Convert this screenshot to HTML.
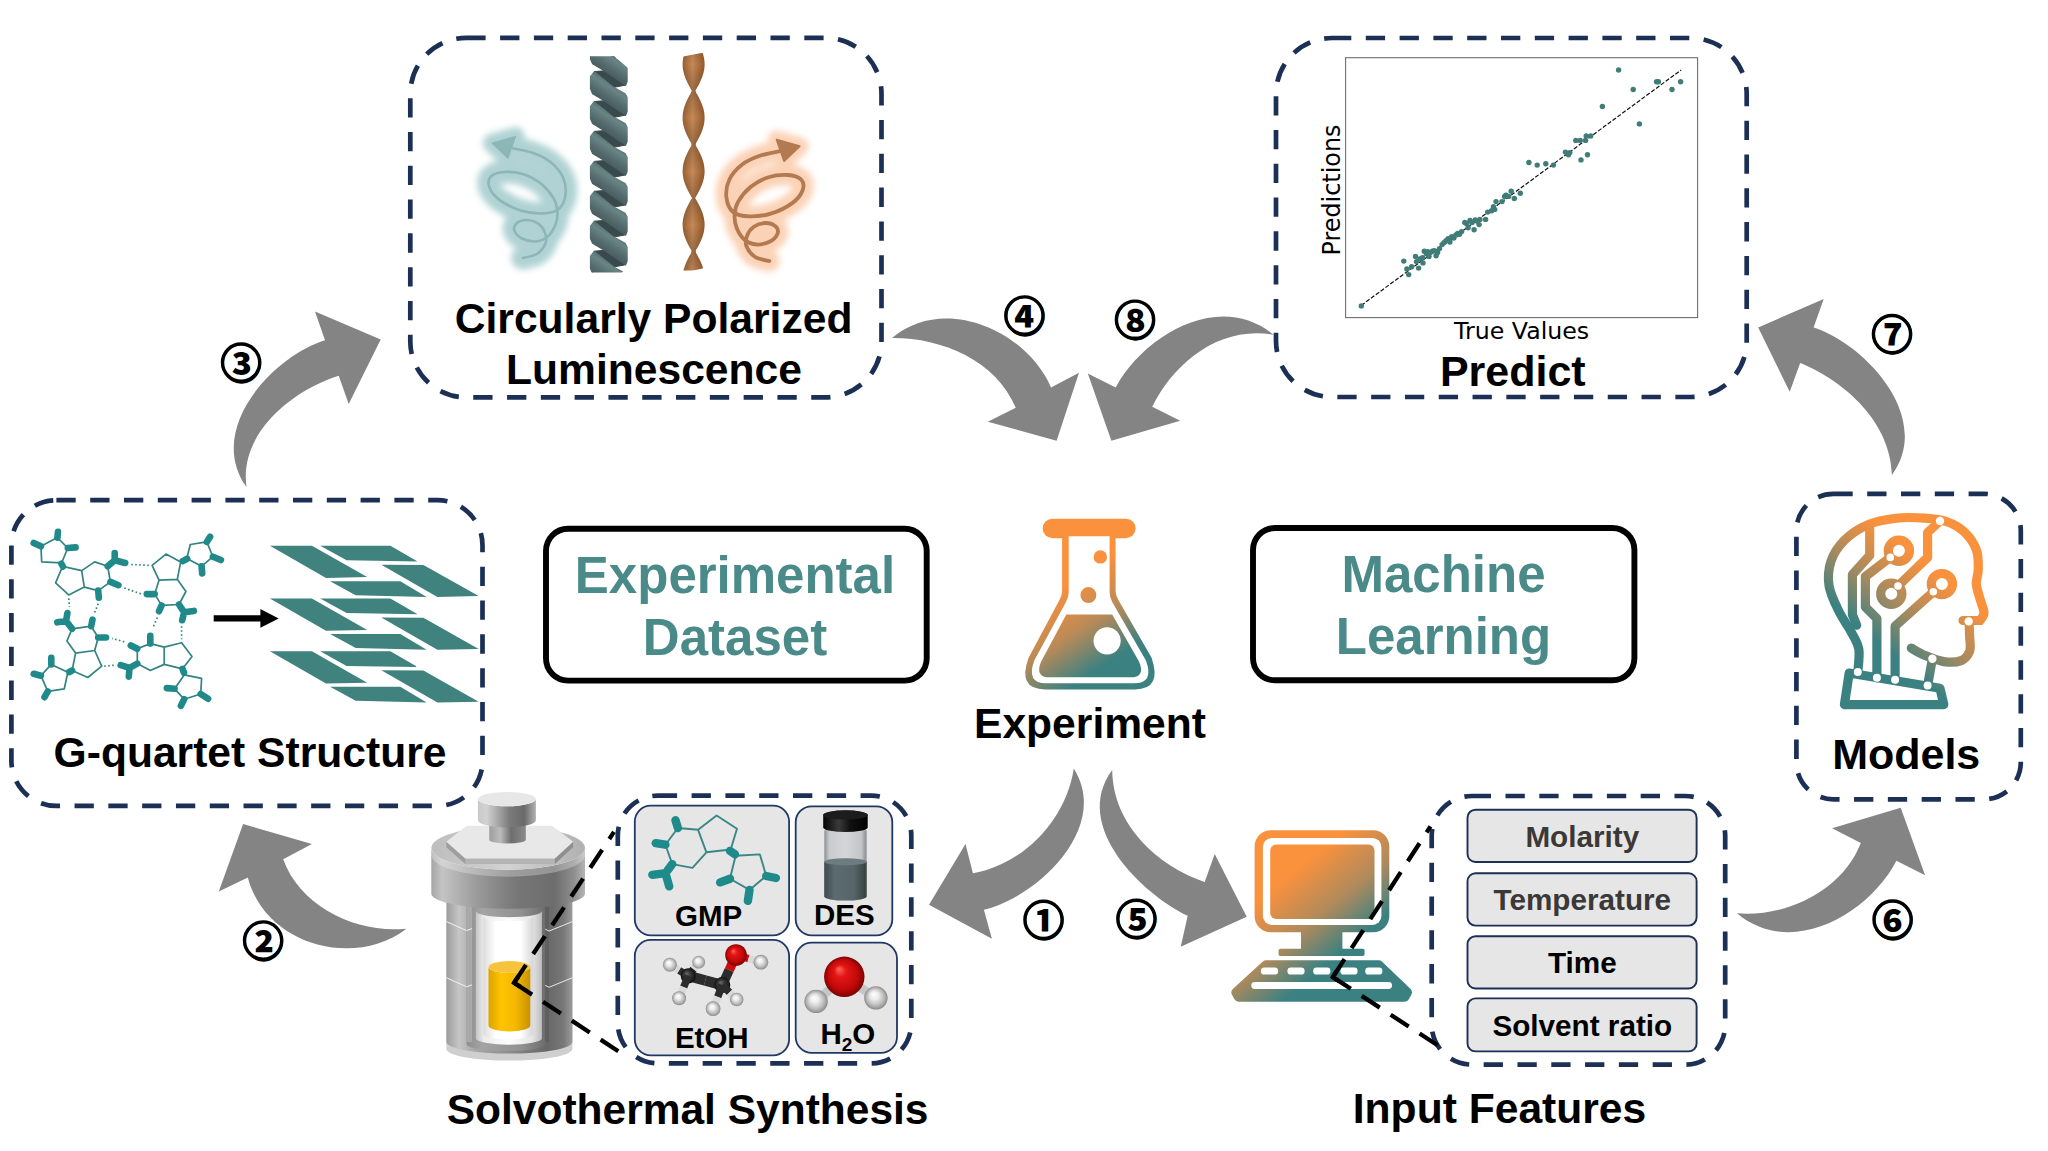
<!DOCTYPE html>
<html lang="en"><head><meta charset="utf-8"><title>Workflow</title>
<style>html,body{margin:0;padding:0;background:#fff}svg{display:block}</style></head>
<body>
<svg width="2048" height="1151" viewBox="0 0 2048 1151">
<defs>
<linearGradient id="acB" x1="0" y1="0" x2="1" y2="0"><stop offset="0" stop-color="#9c9c9c"/><stop offset="0.1" stop-color="#c6c6c6"/><stop offset="0.2" stop-color="#acacac"/><stop offset="0.5" stop-color="#8a8a8a"/><stop offset="0.8" stop-color="#676767"/><stop offset="0.93" stop-color="#787878"/><stop offset="1" stop-color="#9c9c9c"/></linearGradient>
<linearGradient id="acL" x1="0" y1="0" x2="1" y2="0"><stop offset="0" stop-color="#a5a5a5"/><stop offset="0.07" stop-color="#c4c4c4"/><stop offset="0.3" stop-color="#9a9a9a"/><stop offset="0.55" stop-color="#777"/><stop offset="0.8" stop-color="#6d6d6d"/><stop offset="0.93" stop-color="#8f8f8f"/><stop offset="1" stop-color="#b5b5b5"/></linearGradient>
<linearGradient id="acT" x1="0" y1="0" x2="1" y2="0"><stop offset="0" stop-color="#bdbdbd"/><stop offset="0.5" stop-color="#d2d2d2"/><stop offset="1" stop-color="#b0b0b0"/></linearGradient>
<linearGradient id="acK" x1="0" y1="0" x2="1" y2="0"><stop offset="0" stop-color="#c9c9c9"/><stop offset="0.15" stop-color="#d2d2d2"/><stop offset="0.55" stop-color="#7a7a7a"/><stop offset="0.8" stop-color="#6a6a6a"/><stop offset="1" stop-color="#b2b2b2"/></linearGradient>
<linearGradient id="acS" x1="0" y1="0" x2="1" y2="0"><stop offset="0" stop-color="#9d9d9d"/><stop offset="0.3" stop-color="#bcbcbc"/><stop offset="0.6" stop-color="#6e6e6e"/><stop offset="1" stop-color="#8a8a8a"/></linearGradient>
<linearGradient id="acW" x1="0" y1="0" x2="1" y2="0"><stop offset="0" stop-color="#c4c4c4"/><stop offset="0.12" stop-color="#ececec"/><stop offset="0.5" stop-color="#fdfdfd"/><stop offset="0.85" stop-color="#e6e6e6"/><stop offset="1" stop-color="#bdbdbd"/></linearGradient>
<linearGradient id="acI" x1="0" y1="0" x2="1" y2="0"><stop offset="0" stop-color="#dcdcdc"/><stop offset="0.25" stop-color="#fff"/><stop offset="0.75" stop-color="#fff"/><stop offset="1" stop-color="#d5d5d5"/></linearGradient>
<linearGradient id="acC" x1="0" y1="0" x2="1" y2="0"><stop offset="0" stop-color="#8e8e8e"/><stop offset="0.2" stop-color="#a4a4a4"/><stop offset="0.7" stop-color="#909090"/><stop offset="1" stop-color="#6c6c6c"/></linearGradient>
<linearGradient id="acY" x1="0" y1="0" x2="1" y2="0"><stop offset="0" stop-color="#dba300"/><stop offset="0.3" stop-color="#ffc400"/><stop offset="0.65" stop-color="#f5b800"/><stop offset="1" stop-color="#c79100"/></linearGradient>
<filter id="blur1" x="-30%" y="-30%" width="160%" height="160%"><feGaussianBlur stdDeviation="3"/></filter>
<path id="spiR" d="M769.3 261C766.9 260.4 759.1 259.5 755.2 257C751.4 254.5 747.7 249.5 746.4 246C745 242.4 745.9 238.8 747.1 235.6C748.3 232.4 750.7 228.8 753.8 226.7C756.8 224.6 761.9 223 765.6 223C769.3 223 774 224.9 775.9 226.7C777.9 228.6 778.4 231.7 777.4 234.1C776.4 236.6 773.5 239.8 770 241.5C766.6 243.2 760.9 244.7 756.7 244.5C752.5 244.2 748.2 242.8 744.9 240C741.6 237.3 738.5 232.4 736.8 228.2C735 224 734.3 219.4 734.6 214.9C734.8 210.5 735.5 206.3 738.2 201.6C741 196.9 745.8 190.9 750.8 186.8C755.9 182.8 762.4 179.2 768.5 177.2C774.7 175.3 782.3 174.7 787.8 175C793.2 175.4 798.6 176.9 801.1 179.5C803.5 182 804 186.6 802.5 190.5C801.1 194.5 797.4 199.3 792.2 203.1C787 206.9 778.6 211.2 771.5 213.4C764.4 215.7 755.7 216.6 749.3 216.4C742.9 216.2 736.9 215.2 733.1 212C729.3 208.8 727 202.6 726.4 197.2C725.8 191.8 726.8 184.9 729.4 179.5C732 174 736.9 168.6 741.9 164.7C747 160.7 753.5 158 759.7 155.8C765.8 153.6 775.7 152.1 778.9 151.4"/><path id="spiH" d="M776.7 139.6L799.6 146.2L784.1 161Z"/>
<clipPath id="helclip"><rect x="585" y="56.3" width="50" height="216.3"/></clipPath>
<linearGradient id="helg" gradientUnits="userSpaceOnUse" x1="600" y1="60" x2="590.5" y2="75" spreadMethod="repeat"><stop offset="0" stop-color="#465a5c"/><stop offset="0.3" stop-color="#4f6567"/><stop offset="0.55" stop-color="#6b8688"/><stop offset="0.8" stop-color="#52686a"/><stop offset="1" stop-color="#465a5c"/></linearGradient>
<linearGradient id="helg0" gradientUnits="userSpaceOnUse" x1="620.3" y1="-21.3" x2="597.3" y2="14.1"><stop offset="0" stop-color="#44585a"/><stop offset="0.32" stop-color="#4b6062"/><stop offset="0.5" stop-color="#6a8587"/><stop offset="0.72" stop-color="#546a6c"/><stop offset="1" stop-color="#3f5254"/></linearGradient>
<linearGradient id="helg1" gradientUnits="userSpaceOnUse" x1="620.3" y1="8.6" x2="597.3" y2="44.1"><stop offset="0" stop-color="#44585a"/><stop offset="0.32" stop-color="#4b6062"/><stop offset="0.5" stop-color="#6a8587"/><stop offset="0.72" stop-color="#546a6c"/><stop offset="1" stop-color="#3f5254"/></linearGradient>
<linearGradient id="helg2" gradientUnits="userSpaceOnUse" x1="620.3" y1="38.5" x2="597.3" y2="74"><stop offset="0" stop-color="#44585a"/><stop offset="0.32" stop-color="#4b6062"/><stop offset="0.5" stop-color="#6a8587"/><stop offset="0.72" stop-color="#546a6c"/><stop offset="1" stop-color="#3f5254"/></linearGradient>
<linearGradient id="helg3" gradientUnits="userSpaceOnUse" x1="620.3" y1="68.5" x2="597.3" y2="103.9"><stop offset="0" stop-color="#44585a"/><stop offset="0.32" stop-color="#4b6062"/><stop offset="0.5" stop-color="#6a8587"/><stop offset="0.72" stop-color="#546a6c"/><stop offset="1" stop-color="#3f5254"/></linearGradient>
<linearGradient id="helg4" gradientUnits="userSpaceOnUse" x1="620.3" y1="98.4" x2="597.3" y2="133.8"><stop offset="0" stop-color="#44585a"/><stop offset="0.32" stop-color="#4b6062"/><stop offset="0.5" stop-color="#6a8587"/><stop offset="0.72" stop-color="#546a6c"/><stop offset="1" stop-color="#3f5254"/></linearGradient>
<linearGradient id="helg5" gradientUnits="userSpaceOnUse" x1="620.3" y1="128.3" x2="597.3" y2="163.8"><stop offset="0" stop-color="#44585a"/><stop offset="0.32" stop-color="#4b6062"/><stop offset="0.5" stop-color="#6a8587"/><stop offset="0.72" stop-color="#546a6c"/><stop offset="1" stop-color="#3f5254"/></linearGradient>
<linearGradient id="helg6" gradientUnits="userSpaceOnUse" x1="620.3" y1="158.2" x2="597.3" y2="193.7"><stop offset="0" stop-color="#44585a"/><stop offset="0.32" stop-color="#4b6062"/><stop offset="0.5" stop-color="#6a8587"/><stop offset="0.72" stop-color="#546a6c"/><stop offset="1" stop-color="#3f5254"/></linearGradient>
<linearGradient id="helg7" gradientUnits="userSpaceOnUse" x1="620.3" y1="188.2" x2="597.3" y2="223.6"><stop offset="0" stop-color="#44585a"/><stop offset="0.32" stop-color="#4b6062"/><stop offset="0.5" stop-color="#6a8587"/><stop offset="0.72" stop-color="#546a6c"/><stop offset="1" stop-color="#3f5254"/></linearGradient>
<linearGradient id="helg8" gradientUnits="userSpaceOnUse" x1="620.3" y1="218.1" x2="597.3" y2="253.6"><stop offset="0" stop-color="#44585a"/><stop offset="0.32" stop-color="#4b6062"/><stop offset="0.5" stop-color="#6a8587"/><stop offset="0.72" stop-color="#546a6c"/><stop offset="1" stop-color="#3f5254"/></linearGradient>
<linearGradient id="helg9" gradientUnits="userSpaceOnUse" x1="620.3" y1="248" x2="597.3" y2="283.5"><stop offset="0" stop-color="#44585a"/><stop offset="0.32" stop-color="#4b6062"/><stop offset="0.5" stop-color="#6a8587"/><stop offset="0.72" stop-color="#546a6c"/><stop offset="1" stop-color="#3f5254"/></linearGradient>
<linearGradient id="ribg" x1="0" y1="0" x2="1" y2="0"><stop offset="0" stop-color="#9a6030"/><stop offset="0.45" stop-color="#c68a58"/><stop offset="1" stop-color="#97592a"/></linearGradient>
<linearGradient id="ribv" gradientUnits="userSpaceOnUse" x1="0" y1="91" x2="0" y2="117.8" spreadMethod="reflect"><stop offset="0" stop-color="#000" stop-opacity="0.22"/><stop offset="1" stop-color="#000" stop-opacity="0"/></linearGradient>
<linearGradient id="flg" gradientUnits="userSpaceOnUse" x1="1040" y1="535" x2="1140" y2="690"><stop offset="0" stop-color="#fa913d"/><stop offset="0.3" stop-color="#fa913d"/><stop offset="0.55" stop-color="#b98a58"/><stop offset="0.78" stop-color="#3c8181"/><stop offset="1" stop-color="#3c8181"/></linearGradient>
<linearGradient id="hdg" gradientUnits="userSpaceOnUse" x1="1945" y1="520" x2="1835" y2="650"><stop offset="0" stop-color="#fa913d"/><stop offset="0.28" stop-color="#fa913d"/><stop offset="0.55" stop-color="#a88a5e"/><stop offset="0.8" stop-color="#3c8181"/><stop offset="1" stop-color="#3c8181"/></linearGradient>
<linearGradient id="vcap" x1="0" y1="0" x2="1" y2="0"><stop offset="0" stop-color="#050505"/><stop offset="0.35" stop-color="#3a3a3a"/><stop offset="0.6" stop-color="#111"/><stop offset="1" stop-color="#000"/></linearGradient>
<linearGradient id="vgl" x1="0" y1="0" x2="1" y2="0"><stop offset="0" stop-color="#8e9194"/><stop offset="0.12" stop-color="#c9cbce"/><stop offset="0.5" stop-color="#d4d6d8"/><stop offset="0.88" stop-color="#c2c4c7"/><stop offset="1" stop-color="#85888b"/></linearGradient>
<linearGradient id="vlq" x1="0" y1="0" x2="1" y2="0"><stop offset="0" stop-color="#3e4b4e"/><stop offset="0.25" stop-color="#5b6b6f"/><stop offset="0.7" stop-color="#55656a"/><stop offset="1" stop-color="#36423f"/></linearGradient>
<radialGradient id="gH" cx="0.5" cy="0.5" r="0.5" fx="0.4" fy="0.34"><stop offset="0" stop-color="#ffffff"/><stop offset="0.35" stop-color="#ececec"/><stop offset="0.75" stop-color="#b9b9b9"/><stop offset="1" stop-color="#8a8a8a"/></radialGradient>
<radialGradient id="gC" cx="0.5" cy="0.5" r="0.5" fx="0.38" fy="0.32"><stop offset="0" stop-color="#6a6a6a"/><stop offset="0.4" stop-color="#3a3a3a"/><stop offset="1" stop-color="#111"/></radialGradient>
<radialGradient id="gO" cx="0.5" cy="0.5" r="0.5" fx="0.36" fy="0.30"><stop offset="0" stop-color="#ff6a5a"/><stop offset="0.3" stop-color="#e41616"/><stop offset="0.75" stop-color="#c00808"/><stop offset="1" stop-color="#7a0303"/></radialGradient>
<linearGradient id="cpg" gradientUnits="userSpaceOnUse" x1="1262" y1="838" x2="1395" y2="1000"><stop offset="0" stop-color="#fa913d"/><stop offset="0.22" stop-color="#fa913d"/><stop offset="0.46" stop-color="#b08a5c"/><stop offset="0.66" stop-color="#3c8181"/><stop offset="1" stop-color="#3c8181"/></linearGradient>
</defs>
<rect width="2048" height="1151" fill="#fff"/>
<path d="M892 338C943.8 293.8 1026.7 330.6 1051 387.4L1079 372.8L1056.6 440.7L987.8 421.8L1015.8 407.8C995.8 359.9 940.8 337.6 892 338Z" fill="#848484"/>
<path d="M1273.6 334.8C1219.3 289.6 1143.3 336 1115.7 387.4L1087.8 373.5L1111.4 440.7L1180.2 420.7L1152.2 406.8C1174.2 362.7 1219.3 325.4 1273.6 334.8Z" fill="#848484"/>
<path d="M1073.8 768.4C1111.4 828.1 1035.6 898.1 983.9 909.8L991.9 938.8L929 904.8L965.5 843.9L972.9 873.3C1024.2 863.9 1066 819.7 1073.8 768.4Z" fill="#848484"/>
<path d="M1112.2 770C1070.5 826.4 1143.5 894.8 1187.7 915.8L1180.7 946.8L1246.7 916.8L1214.7 853.9L1204.7 881.9C1157 865.6 1112.8 824.4 1112.2 770Z" fill="#848484"/>
<path d="M406.4 928.7C354.2 969 265.4 945 247.8 877.5L218.8 891.4L243.1 824L311.9 844L283.2 859.3C300.4 907.4 357.6 934 406.4 928.7Z" fill="#848484"/>
<path d="M246.5 487.1C205.2 429.3 272.9 356.3 325 340.2L315 311.5L380.7 339.6L348.7 404.1L338.7 375.8C292.3 390.3 238.9 433.2 246.5 487.1Z" fill="#848484"/>
<path d="M1736.9 913.3C1791.2 958.9 1869.1 913.9 1896.4 860.8L1925.1 875.2L1900.7 807.8L1832.1 828.3L1860.8 842.9C1842.5 890.6 1786.1 917.4 1736.9 913.3Z" fill="#848484"/>
<path d="M1891.9 475C1933.8 417.1 1865.2 344.1 1813.6 327.4L1823.7 299.1L1758.2 327.4L1789.7 391.8L1800.2 363.1C1845.6 381.5 1890.8 423.1 1891.9 475Z" fill="#848484"/>
<path d="M446.4 921.1 V1049 A63 11.6 0 0 0 572.4 1049 V921.1 A63 11.6 0 0 1 446.4 921.1 Z" fill="#cfcfcf"/>
<path d="M446.4 890.8 V1042 A63 11.6 0 0 0 572.4 1042 V890.8 A63 11.6 0 0 1 446.4 890.8 Z" fill="url(#acB)"/>
<path d="M466.6 898.4 V1044.5 A39.7 7.1 0 0 0 545.9 1044.5 V898.4 Z" fill="url(#acC)"/>
<rect x="466.6" y="898.4" width="5.5" height="143.6" fill="#a9a9a9"/>
<rect x="545.2" y="898.4" width="3.8" height="143.6" fill="#5f5f5f"/>
<path d="M475.9 911 V1038.4 A33 6.3 0 0 0 541.9 1038.4 V911 A33 6.3 0 0 1 475.9 911 Z" fill="url(#acW)"/>
<path d="M483 916 V1033.9 A25.2 5.5 0 0 0 533.4 1033.9 V916 A25.2 5.5 0 0 1 483 916 Z" fill="url(#acI)"/>
<path d="M488.5 966.9 V1025.6 A20.9 6 0 0 0 530.3 1025.6 V966.9 A20.9 6 0 0 1 488.5 966.9 Z" fill="url(#acY)"/>
<ellipse cx="509.4" cy="966.9" rx="20.9" ry="6" fill="#f6c43c"/>
<path d="M446.4 921.6L466.6 930.6L472.1 928.6" fill="none" stroke="#f2f2f2" stroke-width="1"/>
<path d="M572.4 921.6L549 931.1L545.2 929.1" fill="none" stroke="#e8e8e8" stroke-width="1"/>
<path d="M446.4 977.7L466.6 986.8L472.1 984.8" fill="none" stroke="#f2f2f2" stroke-width="1"/>
<path d="M572.4 977.7L549 987.3L545.2 985.3" fill="none" stroke="#e8e8e8" stroke-width="1"/>
<path d="M431.3 848 V893.6 A76.8 15.2 0 0 0 585 893.6 V848 A76.8 21.7 0 0 1 431.3 848 Z" fill="url(#acL)"/>
<ellipse cx="508.2" cy="848" rx="76.8" ry="21.7" fill="url(#acT)"/>
<path d="M431.3 848 A76.8 21.7 0 0 0 585 848 V855 A76.8 21.7 0 0 1 431.3 855 Z" fill="#fff" opacity="0.28"/>
<path d="M446.4 841.7L446.4 847.3L465.3 864.1L554.8 864.1L573.1 847.3L573.1 841.7L554.8 858.6Z" fill="#b4b4b4"/>
<path d="M446.4 841.7L446.4 847.3L465.3 864.1L465.3 858.6Z" fill="#9e9e9e"/>
<path d="M573.1 841.7L573.1 847.3L554.8 864.1L554.8 858.6Z" fill="#8f8f8f"/>
<path d="M446.4 841.7L466.6 825.8L552.2 825.8L573.1 841.7L554.8 858.6L465.3 858.6Z" fill="#e8e8e8"/>
<path d="M489.3 822.8 V839.9 A18.3 4 0 0 0 525.8 839.9 V822.8 A18.3 4 0 0 1 489.3 822.8 Z" fill="url(#acS)"/>
<path d="M477.9 799.1 V820.3 A29 7.1 0 0 0 535.9 820.3 V799.1 A29 7.1 0 0 1 477.9 799.1 Z" fill="url(#acK)"/>
<ellipse cx="506.9" cy="799.1" rx="29" ry="7.1" fill="#e7e7e7"/>
<rect x="410.3" y="37.8" width="471.2" height="359.6" rx="56" fill="none" stroke="#1c2f55" stroke-width="4.7" stroke-dasharray="19.3 14.5" stroke-dashoffset="0"/>
<rect x="1276" y="38" width="470.7" height="359" rx="56" fill="none" stroke="#1c2f55" stroke-width="4.7" stroke-dasharray="19.3 14.5" stroke-dashoffset="0"/>
<rect x="11.4" y="500.2" width="471.1" height="305.7" rx="45" fill="none" stroke="#1c2f55" stroke-width="4.7" stroke-dasharray="19.3 14.5" stroke-dashoffset="0"/>
<rect x="1796.4" y="493.8" width="224.4" height="305.5" rx="37" fill="none" stroke="#1c2f55" stroke-width="4.7" stroke-dasharray="19.3 14.5" stroke-dashoffset="0"/>
<rect x="617.8" y="795.6" width="293.5" height="267.7" rx="40" fill="none" stroke="#1c2f55" stroke-width="4.7" stroke-dasharray="19.3 14.5" stroke-dashoffset="0"/>
<rect x="1431.7" y="796" width="293.5" height="268.6" rx="40" fill="none" stroke="#1c2f55" stroke-width="4.7" stroke-dasharray="19.3 14.5" stroke-dashoffset="0"/>
<g>
<g filter="url(#blur1)" opacity="0.95"><use href="#spiR" fill="none" stroke="#fbd0b3" stroke-width="21" stroke-linecap="round" stroke-linejoin="round"/><use href="#spiH" fill="#fbd0b3" stroke="#fbd0b3" stroke-width="18" stroke-linejoin="round"/></g>
<use href="#spiR" fill="none" stroke="#b37a52" stroke-width="3.8" stroke-linecap="round"/><use href="#spiH" fill="#b37a52" stroke="#b37a52" stroke-width="2" stroke-linejoin="round"/>
</g>
<g transform="translate(1292 -3) scale(-1 1)">
<g filter="url(#blur1)" opacity="0.97"><use href="#spiR" fill="none" stroke="#aed1d3" stroke-width="23" stroke-linecap="round" stroke-linejoin="round"/><use href="#spiH" fill="#aed1d3" stroke="#aed1d3" stroke-width="19" stroke-linejoin="round"/></g>
<use href="#spiR" fill="none" stroke="#8db6b7" stroke-width="2.6" stroke-linecap="round"/><use href="#spiH" fill="#8db6b7" stroke="#8db6b7" stroke-width="1.5" stroke-linejoin="round"/>
</g>
<g clip-path="url(#helclip)" stroke-linejoin="round">
<path d="M604.8 -19L625.8 -4.6L613.6 -2.3L594 -18.2Z" fill="#384a4c" stroke="#384a4c" stroke-width="1"/>
<path d="M604.8 10.9L625.8 25.3L613.6 27.6L594 11.7Z" fill="#384a4c" stroke="#384a4c" stroke-width="1"/>
<path d="M604.8 40.8L625.8 55.2L613.6 57.5L594 41.7Z" fill="#384a4c" stroke="#384a4c" stroke-width="1"/>
<path d="M604.8 70.8L625.8 85.1L613.6 87.4L594 71.6Z" fill="#384a4c" stroke="#384a4c" stroke-width="1"/>
<path d="M604.8 100.7L625.8 115.1L613.6 117.4L594 101.5Z" fill="#384a4c" stroke="#384a4c" stroke-width="1"/>
<path d="M604.8 130.6L625.8 145L613.6 147.3L594 131.4Z" fill="#384a4c" stroke="#384a4c" stroke-width="1"/>
<path d="M604.8 160.5L625.8 174.9L613.6 177.2L594 161.4Z" fill="#384a4c" stroke="#384a4c" stroke-width="1"/>
<path d="M604.8 190.5L625.8 204.9L613.6 207.1L594 191.3Z" fill="#384a4c" stroke="#384a4c" stroke-width="1"/>
<path d="M604.8 220.4L625.8 234.8L613.6 237.1L594 221.2Z" fill="#384a4c" stroke="#384a4c" stroke-width="1"/>
<path d="M604.8 250.3L625.8 264.7L613.6 267L594 251.2Z" fill="#384a4c" stroke="#384a4c" stroke-width="1"/>
<path d="M594.2 -18L613.6 -2.3L625.1 3.9L627.1 7.6L627.1 21.7L625.6 25.4L604.8 11.2L592.6 3.9L590.5 -1L590.5 -13.3Z" fill="url(#helg0)" stroke="url(#helg0)" stroke-width="1.2"/>
<path d="M594.2 11.9L613.6 27.6L625.1 33.8L627.1 37.5L627.1 51.7L625.6 55.3L604.8 41.1L592.6 33.8L590.5 28.9L590.5 16.6Z" fill="url(#helg1)" stroke="url(#helg1)" stroke-width="1.2"/>
<path d="M594.2 41.9L613.6 57.5L625.1 63.8L627.1 67.4L627.1 81.6L625.6 85.3L604.8 71.1L592.6 63.8L590.5 58.9L590.5 46.6Z" fill="url(#helg2)" stroke="url(#helg2)" stroke-width="1.2"/>
<path d="M594.2 71.8L613.6 87.4L625.1 93.7L627.1 97.3L627.1 111.5L625.6 115.2L604.8 101L592.6 93.7L590.5 88.8L590.5 76.5Z" fill="url(#helg3)" stroke="url(#helg3)" stroke-width="1.2"/>
<path d="M594.2 101.7L613.6 117.4L625.1 123.6L627.1 127.3L627.1 141.5L625.6 145.1L604.8 130.9L592.6 123.6L590.5 118.7L590.5 106.4Z" fill="url(#helg4)" stroke="url(#helg4)" stroke-width="1.2"/>
<path d="M594.2 131.7L613.6 147.3L625.1 153.6L627.1 157.2L627.1 171.4L625.6 175L604.8 160.8L592.6 153.6L590.5 148.6L590.5 136.3Z" fill="url(#helg5)" stroke="url(#helg5)" stroke-width="1.2"/>
<path d="M594.2 161.6L613.6 177.2L625.1 183.5L627.1 187.1L627.1 201.3L625.6 205L604.8 190.8L592.6 183.5L590.5 178.6L590.5 166.3Z" fill="url(#helg6)" stroke="url(#helg6)" stroke-width="1.2"/>
<path d="M594.2 191.5L613.6 207.1L625.1 213.4L627.1 217.1L627.1 231.2L625.6 234.9L604.8 220.7L592.6 213.4L590.5 208.5L590.5 196.2Z" fill="url(#helg7)" stroke="url(#helg7)" stroke-width="1.2"/>
<path d="M594.2 221.4L613.6 237.1L625.1 243.3L627.1 247L627.1 261.2L625.6 264.8L604.8 250.6L592.6 243.3L590.5 238.4L590.5 226.1Z" fill="url(#helg8)" stroke="url(#helg8)" stroke-width="1.2"/>
<path d="M594.2 251.4L613.6 267L625.1 273.3L627.1 276.9L627.1 291.1L625.6 294.7L604.8 280.6L592.6 273.3L590.5 268.4L590.5 256.1Z" fill="url(#helg9)" stroke="url(#helg9)" stroke-width="1.2"/>
</g>
<path d="M613.5 55.5H629V69Z" fill="#fff"/>
<path d="M621.2 273.5H629V265.5Z" fill="#fff"/>
<path d="M684.5 53L683.8 55.5L683.2 58L682.8 60.5L682.6 63L682.6 65.5L682.8 68L683.2 70.5L683.8 73L684.5 75.5L685.4 78L686.5 80.5L687.6 83L688.9 85.5L690.3 88L691.8 90.5L690.9 93L689.4 95.5L688.1 98L686.9 100.5L685.8 103L684.9 105.5L684 108L683.4 110.5L682.9 113L682.7 115.5L682.6 118L682.7 120.5L683 123L683.5 125.5L684.2 128L685 130.5L686 133L687.1 135.5L688.4 138L689.7 140.5L691.2 143L691.5 145.5L690 148L688.6 150.5L687.4 153L686.2 155.5L685.2 158L684.3 160.5L683.6 163L683.1 165.5L682.8 168L682.6 170.5L682.6 173L682.9 175.5L683.3 178L683.9 180.5L684.7 183L685.6 185.5L686.7 188L687.9 190.5L689.2 193L690.6 195.5L692.1 198L690.6 200.5L689.2 203L687.9 205.5L686.7 208L685.6 210.5L684.7 213L683.9 215.5L683.3 218L682.9 220.5L682.6 223L682.6 225.5L682.8 228L683.1 230.5L683.6 233L684.3 235.5L685.2 238L686.2 240.5L687.4 243L688.6 245.5L690 248L691.5 250.5L691.2 253L689.7 255.5L688.4 258L687.1 260.5L686 263L685 265.5L684.2 268L683.5 270.5L703.7 270.5L703 268L702.2 265.5L701.2 263L700.1 260.5L698.8 258L697.5 255.5L696 253L695.7 250.5L697.2 248L698.6 245.5L699.8 243L701 240.5L702 238L702.9 235.5L703.6 233L704.1 230.5L704.4 228L704.6 225.5L704.6 223L704.3 220.5L703.9 218L703.3 215.5L702.5 213L701.6 210.5L700.5 208L699.3 205.5L698 203L696.6 200.5L695.1 198L696.6 195.5L698 193L699.3 190.5L700.5 188L701.6 185.5L702.5 183L703.3 180.5L703.9 178L704.3 175.5L704.6 173L704.6 170.5L704.4 168L704.1 165.5L703.6 163L702.9 160.5L702 158L701 155.5L699.8 153L698.6 150.5L697.2 148L695.7 145.5L696 143L697.5 140.5L698.8 138L700.1 135.5L701.2 133L702.2 130.5L703 128L703.7 125.5L704.2 123L704.5 120.5L704.6 118L704.5 115.5L704.3 113L703.8 110.5L703.2 108L702.3 105.5L701.4 103L700.3 100.5L699.1 98L697.8 95.5L696.3 93L695.4 90.5L696.9 88L698.3 85.5L699.6 83L700.7 80.5L701.8 78L702.7 75.5L703.4 73L704 70.5L704.4 68L704.6 65.5L704.6 63L704.4 60.5L704 58L703.4 55.5L702.7 53Z" fill="url(#ribg)"/>
<path d="M684.5 53L683.8 55.5L683.2 58L682.8 60.5L682.6 63L682.6 65.5L682.8 68L683.2 70.5L683.8 73L684.5 75.5L685.4 78L686.5 80.5L687.6 83L688.9 85.5L690.3 88L691.8 90.5L690.9 93L689.4 95.5L688.1 98L686.9 100.5L685.8 103L684.9 105.5L684 108L683.4 110.5L682.9 113L682.7 115.5L682.6 118L682.7 120.5L683 123L683.5 125.5L684.2 128L685 130.5L686 133L687.1 135.5L688.4 138L689.7 140.5L691.2 143L691.5 145.5L690 148L688.6 150.5L687.4 153L686.2 155.5L685.2 158L684.3 160.5L683.6 163L683.1 165.5L682.8 168L682.6 170.5L682.6 173L682.9 175.5L683.3 178L683.9 180.5L684.7 183L685.6 185.5L686.7 188L687.9 190.5L689.2 193L690.6 195.5L692.1 198L690.6 200.5L689.2 203L687.9 205.5L686.7 208L685.6 210.5L684.7 213L683.9 215.5L683.3 218L682.9 220.5L682.6 223L682.6 225.5L682.8 228L683.1 230.5L683.6 233L684.3 235.5L685.2 238L686.2 240.5L687.4 243L688.6 245.5L690 248L691.5 250.5L691.2 253L689.7 255.5L688.4 258L687.1 260.5L686 263L685 265.5L684.2 268L683.5 270.5L703.7 270.5L703 268L702.2 265.5L701.2 263L700.1 260.5L698.8 258L697.5 255.5L696 253L695.7 250.5L697.2 248L698.6 245.5L699.8 243L701 240.5L702 238L702.9 235.5L703.6 233L704.1 230.5L704.4 228L704.6 225.5L704.6 223L704.3 220.5L703.9 218L703.3 215.5L702.5 213L701.6 210.5L700.5 208L699.3 205.5L698 203L696.6 200.5L695.1 198L696.6 195.5L698 193L699.3 190.5L700.5 188L701.6 185.5L702.5 183L703.3 180.5L703.9 178L704.3 175.5L704.6 173L704.6 170.5L704.4 168L704.1 165.5L703.6 163L702.9 160.5L702 158L701 155.5L699.8 153L698.6 150.5L697.2 148L695.7 145.5L696 143L697.5 140.5L698.8 138L700.1 135.5L701.2 133L702.2 130.5L703 128L703.7 125.5L704.2 123L704.5 120.5L704.6 118L704.5 115.5L704.3 113L703.8 110.5L703.2 108L702.3 105.5L701.4 103L700.3 100.5L699.1 98L697.8 95.5L696.3 93L695.4 90.5L696.9 88L698.3 85.5L699.6 83L700.7 80.5L701.8 78L702.7 75.5L703.4 73L704 70.5L704.4 68L704.6 65.5L704.6 63L704.4 60.5L704 58L703.4 55.5L702.7 53Z" fill="url(#ribv)"/>
<path d="M680.6 52 L706.6 52 L680.6 57 Z" fill="#fff"/>
<path d="M680.6 273.5 L706.6 273.5 L706.6 267.5 Z" fill="#fff"/>
<text x="653.6" y="333" font-family='"Liberation Sans", Arial, sans-serif' font-size="42.6" font-weight="bold" fill="#000" text-anchor="middle" >Circularly Polarized</text>
<text x="654" y="384.3" font-family='"Liberation Sans", Arial, sans-serif' font-size="42.6" font-weight="bold" fill="#000" text-anchor="middle" >Luminescence</text>
<rect x="1345.6" y="57.7" width="352" height="259.9" fill="#fff" stroke="#6e6e6e" stroke-width="1.1"/>
<line x1="1361.3" y1="305.4" x2="1681.1" y2="70" stroke="#111" stroke-width="1.2" stroke-dasharray="4.2 1.8"/>
<g fill="#407c78">
<circle cx="1361.3" cy="305.9" r="2.7"/>
<circle cx="1403.8" cy="261.1" r="2.7"/>
<circle cx="1406.9" cy="268.9" r="2.7"/>
<circle cx="1408.7" cy="274.6" r="2.7"/>
<circle cx="1411.6" cy="266.8" r="2.7"/>
<circle cx="1415.5" cy="256.4" r="2.7"/>
<circle cx="1416.5" cy="261.6" r="2.7"/>
<circle cx="1418.6" cy="268.1" r="2.7"/>
<circle cx="1419.9" cy="259" r="2.7"/>
<circle cx="1422.5" cy="257.7" r="2.7"/>
<circle cx="1423" cy="262.9" r="2.7"/>
<circle cx="1424.3" cy="251.2" r="2.7"/>
<circle cx="1426.4" cy="253.8" r="2.7"/>
<circle cx="1427.7" cy="251.7" r="2.7"/>
<circle cx="1429" cy="256.4" r="2.7"/>
<circle cx="1430.3" cy="252.5" r="2.7"/>
<circle cx="1432.4" cy="251.2" r="2.7"/>
<circle cx="1434.3" cy="250.6" r="2.7"/>
<circle cx="1436.1" cy="255.8" r="2.7"/>
<circle cx="1437.6" cy="252.5" r="2.7"/>
<circle cx="1439.5" cy="248.6" r="2.7"/>
<circle cx="1442.1" cy="244.6" r="2.7"/>
<circle cx="1443.9" cy="242.8" r="2.7"/>
<circle cx="1446" cy="240.7" r="2.7"/>
<circle cx="1448.1" cy="238.6" r="2.7"/>
<circle cx="1449.9" cy="242" r="2.7"/>
<circle cx="1451.7" cy="236.8" r="2.7"/>
<circle cx="1453.8" cy="238.1" r="2.7"/>
<circle cx="1455.9" cy="235" r="2.7"/>
<circle cx="1457.7" cy="233.4" r="2.7"/>
<circle cx="1459.5" cy="234.2" r="2.7"/>
<circle cx="1461.6" cy="231.6" r="2.7"/>
<circle cx="1464.8" cy="222.5" r="2.7"/>
<circle cx="1466.8" cy="223.8" r="2.7"/>
<circle cx="1468.1" cy="227.7" r="2.7"/>
<circle cx="1470" cy="220.4" r="2.7"/>
<circle cx="1472.1" cy="222.5" r="2.7"/>
<circle cx="1474.1" cy="229.8" r="2.7"/>
<circle cx="1475.2" cy="219.9" r="2.7"/>
<circle cx="1477.3" cy="221.2" r="2.7"/>
<circle cx="1479.1" cy="224.6" r="2.7"/>
<circle cx="1479.9" cy="219.4" r="2.7"/>
<circle cx="1485.6" cy="219.4" r="2.7"/>
<circle cx="1487.7" cy="212.1" r="2.7"/>
<circle cx="1491.6" cy="210.8" r="2.7"/>
<circle cx="1493.4" cy="206.8" r="2.7"/>
<circle cx="1494.7" cy="209.4" r="2.7"/>
<circle cx="1496" cy="201.6" r="2.7"/>
<circle cx="1502" cy="201.6" r="2.7"/>
<circle cx="1504.6" cy="196.4" r="2.7"/>
<circle cx="1505.9" cy="195.1" r="2.7"/>
<circle cx="1508.6" cy="196.4" r="2.7"/>
<circle cx="1511.2" cy="191.2" r="2.7"/>
<circle cx="1514.3" cy="198.5" r="2.7"/>
<circle cx="1520.3" cy="193.3" r="2.7"/>
<circle cx="1528.9" cy="162.5" r="2.7"/>
<circle cx="1537.2" cy="165.1" r="2.7"/>
<circle cx="1545.8" cy="163.8" r="2.7"/>
<circle cx="1553.4" cy="165.1" r="2.7"/>
<circle cx="1565.4" cy="152.1" r="2.7"/>
<circle cx="1568.5" cy="154.7" r="2.7"/>
<circle cx="1569.8" cy="152.6" r="2.7"/>
<circle cx="1575.8" cy="140.4" r="2.7"/>
<circle cx="1580.2" cy="140.4" r="2.7"/>
<circle cx="1581" cy="159.9" r="2.7"/>
<circle cx="1585.5" cy="140.4" r="2.7"/>
<circle cx="1586.2" cy="135.9" r="2.7"/>
<circle cx="1587.5" cy="154.7" r="2.7"/>
<circle cx="1590.7" cy="135.9" r="2.7"/>
<circle cx="1602.4" cy="106.5" r="2.7"/>
<circle cx="1618.6" cy="70" r="2.7"/>
<circle cx="1633.2" cy="89.5" r="2.7"/>
<circle cx="1639.4" cy="123.9" r="2.7"/>
<circle cx="1656.6" cy="81.7" r="2.7"/>
<circle cx="1658.4" cy="81.7" r="2.7"/>
<circle cx="1672" cy="89.5" r="2.7"/>
<circle cx="1680.6" cy="81.7" r="2.7"/>
</g>
<text x="1521.6" y="339" font-family='"DejaVu Sans", sans-serif' font-size="23.7" font-weight="normal" fill="#000" text-anchor="middle" >True Values</text>
<text transform="translate(1339.5 190) rotate(-90)" font-family='"DejaVu Sans", sans-serif' font-size="23.9" text-anchor="middle" fill="#000">Predictions</text>
<text x="1512.8" y="386.3" font-family='"Liberation Sans", Arial, sans-serif' font-size="43" font-weight="bold" fill="#000" text-anchor="middle" >Predict</text>
<g fill="none" stroke="#348383" stroke-linejoin="round" stroke-linecap="round">
<path d="M40.9 546.3L57.4 537.6L67.8 548L61.7 562.8L41.7 561.9L40.9 546.3M62.6 566.3L81.7 570.6L84.3 587.1L68.7 594.9L55.6 582.8L62.6 566.3M81.7 570.6L94.7 561.9L107.7 566.3L110.4 581.9L98.2 590.6L84.3 587.1M190.3 544.5L206.8 541.9L212.9 556.7L201.6 566.3L186.8 558.4L190.3 544.5M180.7 561.9L166 554.1L152.1 565.4L159 580.2L177.3 579.3L180.7 561.9M177.3 579.3L185.9 591.5L179 604.5L161.6 605.4L154.7 594.1L159 580.2M150.3 643.6L164.2 647.1L164.2 664.4L150.3 670.5L137.3 663.6L137.3 648.8L150.3 643.6M164.2 647.1L181.6 642.7L192 656.6L182.5 668.8L164.2 664.4M184.2 674.9L201.6 678.3L200.7 694L184.2 699.2L174.6 688.8L184.2 674.9M72.1 628.8L91.2 626.2L98.2 637.5L94.7 650.5L75.6 653.1L66.9 641L72.1 628.8M94.7 650.5L101.7 666.2L87.8 677.5L72.1 670.5L75.6 653.1M67.8 672.3L64.3 688.8L47.8 691.4L40.9 675.7L51.3 664.4L67.8 672.3" stroke-width="1.7"/>
<path d="M40.9 546.3L33.7 543M57.4 537.6L58 531.7M67.8 548L75.6 547.4M61.4 563.7L62.9 566.5M107.7 566.3L113 561.7M114.7 560.2L114.7 553M114.7 560.2L125.2 563M110.4 581.9L118.4 585.2M98.2 590.6L98.8 597.8M206.8 541.9L210.1 536.7M212.9 556.7L220.9 560M201.6 566.3L202.2 573.4M187.2 558.8L182.7 561.1M154.7 594.1L146.8 594.1M161.6 605.4L159 611.2M179 604.5L182.9 610.4M184.2 612.3L193.8 610.9M184.2 612.3L182.2 620.2M150.3 643.6L150.3 635.8M137.3 648.8L130.8 645.5M137.3 663.6L131.4 666.8M129.5 667.9L120.7 665.2M129.5 667.9L128.8 676.6M182.5 668.8L184 672.7M200.7 694L208.1 698.7M184.2 699.2L180.9 705.7M174.6 688.8L166.8 688.1M91.2 626.2L92.5 619.7M98.2 637.5L106 637.5M72.1 628.8L67.6 622.9M66 621L57.3 622.3M66 621L67.4 613.1M72.1 670.5L69.3 672M51.3 664.4L51.3 657.9M40.9 675.7L33.7 673.8M47.8 691.4L44.5 697.2" stroke-width="6.6" stroke="#208a8a"/>
<path d="M131.2 564.5L150.3 565.4M124.3 588L141.6 594.1M68.7 598.4L69.5 607.1M98.2 603.6L93.8 614.9M181.6 626.2L181.6 639.2M157.3 617.5L152.9 627.9M113.8 665.3L103.4 666.2M124.3 641.8L112.1 638.4" stroke-width="1.7" stroke-dasharray="1.6 2.4" stroke-linecap="butt"/>
</g>
<path d="M213.7 615.2H260.4V609L278.7 618.4 260.4 627.8V621.6H213.7Z" fill="#000"/>
<g fill="#40827e">
<path d="M269.9 545.7L311.9 545.7L367.2 577L326 577.9 Z"/>
<path d="M320.2 545.7L390.4 545.7L417.6 561.4L346.6 560.2 Z"/>
<path d="M381.3 564.7L423.4 565L478.7 596L437.4 596.9 Z"/>
<path d="M330.1 581.2L400.3 581.2L426.7 596.9L355.7 595.2 Z"/>
<path d="M269.9 598.5L311.9 598.5L367.2 629.9L326 630.7 Z"/>
<path d="M320.2 598.5L390.4 598.5L417.6 614.2L346.6 613 Z"/>
<path d="M381.3 617.5L423.4 617.8L478.7 648.9L437.4 649.7 Z"/>
<path d="M330.1 634L400.3 634L426.7 649.7L355.7 648 Z"/>
<path d="M269.9 651.3L311.9 651.3L367.2 682.7L326 683.5 Z"/>
<path d="M320.2 651.3L390.4 651.3L417.6 667L346.6 665.9 Z"/>
<path d="M381.3 670.3L423.4 670.6L478.7 701.7L437.4 702.5 Z"/>
<path d="M330.1 686.8L400.3 686.8L426.7 702.5L355.7 700.8 Z"/>
</g>
<text x="250" y="766.5" font-family='"Liberation Sans", Arial, sans-serif' font-size="42.6" font-weight="bold" fill="#000" text-anchor="middle" >G-quartet Structure</text>
<rect x="546" y="528.8" width="380.7" height="151.8" rx="22" fill="#fff" stroke="#000" stroke-width="5.9"/>
<rect x="1253" y="528" width="381.4" height="152.3" rx="22" fill="#fff" stroke="#000" stroke-width="5.9"/>
<text x="735" y="593.2" font-family='"Liberation Sans", Arial, sans-serif' font-size="51" font-weight="bold" fill="#4a8a88" text-anchor="middle" >Experimental</text>
<text x="735" y="655" font-family='"Liberation Sans", Arial, sans-serif' font-size="51" font-weight="bold" fill="#4a8a88" text-anchor="middle" >Dataset</text>
<text x="1443.5" y="592.2" font-family='"Liberation Sans", Arial, sans-serif' font-size="51" font-weight="bold" fill="#4a8a88" text-anchor="middle" >Machine</text>
<text x="1443.5" y="653.6" font-family='"Liberation Sans", Arial, sans-serif' font-size="51" font-weight="bold" fill="#4a8a88" text-anchor="middle" >Learning</text>
<rect x="1042.7" y="518.7" width="92.9" height="19.5" rx="9.7" fill="url(#flg)"/>
<path d="M1062.1 536.2L1062.1 590.9Q1062.1 595.1 1059.7 599.4L1028.6 657.8Q1017.1 689.4 1045.1 689.4L1135.1 689.4Q1162.3 689.4 1151.6 657.8L1118.1 599.4Q1115.6 595.1 1115.6 590.9L1115.6 536.2Z" fill="url(#flg)"/>
<path d="M1068.7 536.2L1068.7 592.1Q1068.7 597 1066 601.9L1034.4 660.2Q1025.7 683.3 1046.3 683.3L1133.9 683.3Q1154.6 683.3 1145.8 660.2L1112.2 601.9Q1109.6 597 1109.6 592.1L1109.6 536.2Z" fill="#fff"/>
<path d="M1066.3 614.5L1112.2 614.5L1139 661.4Q1146 677.3 1130.2 677.3L1050 677.3Q1034.2 677.3 1041.2 661.4Z" fill="url(#flg)"/>
<circle cx="1107.1" cy="640.8" r="13.6" fill="#fff"/>
<circle cx="1100.3" cy="556.9" r="6.7" fill="url(#flg)"/>
<circle cx="1088.4" cy="595.1" r="8" fill="url(#flg)"/>
<text x="1090" y="738" font-family='"Liberation Sans", Arial, sans-serif' font-size="42.6" font-weight="bold" fill="#000" text-anchor="middle" >Experiment</text>
<g fill="none" stroke="url(#hdg)" stroke-width="9.2" stroke-linecap="round" stroke-linejoin="round">
<path d="M1857.8 672.1C1858 668.3 1859.9 655.8 1858.8 649.1C1857.6 642.4 1854.5 638.3 1851.1 631.9C1847.8 625.6 1842.3 618.5 1838.7 610.9C1835 603.3 1830.4 594.3 1829.1 586C1827.8 577.8 1828.5 568.8 1831 561.2C1833.6 553.5 1838.4 546.2 1844.4 540.2C1850.5 534.1 1858.8 528.5 1867.4 524.9C1876 521.2 1886.5 519.3 1896 518.2C1905.6 517 1916.1 517.5 1924.7 518.2C1933.3 518.8 1941 519.6 1947.7 522C1954.4 524.4 1960.1 527.9 1964.9 532.5C1969.7 537.1 1974.1 543.7 1976.3 549.7C1978.6 555.8 1978.3 563.1 1978.3 568.8C1978.3 574.6 1976 579 1976.3 584.1C1976.7 589.2 1978.9 594.6 1980.2 599.4C1981.4 604.2 1984 609.3 1984 612.8C1984 616.3 1980.8 619.2 1980.2 620.5L1963 620.5"/>
<path d="M1969.1 622.4L1969.7 637.7C1969.7 639.9 1971.1 647.2 1969.7 651.1C1968.2 654.9 1965.4 658.9 1961.1 660.6C1956.7 662.4 1949.9 662.5 1943.8 661.6C1937.8 660.7 1930.1 657.5 1924.7 655.3C1919.3 653 1913.6 649.4 1911.3 648.2"/>
<path d="M1932.4 658.7L1927.6 685.5"/>
<path d="M1849.2 673L1844.4 704.6L1943.8 704.6L1940 688.3Z"/>
<path d="M1869.7 528.7L1869.7 555.4L1852.4 574.6L1852.4 614.7L1856.7 625.2"/>
<path d="M1890.3 557.4L1865.4 576.5L1865.4 607.1L1876.9 618.5L1876.9 677.8"/>
<path d="M1940 521L1927.6 532.5L1927.6 557.4L1898 586"/>
<path d="M1933.3 591.8L1895.1 626.2L1895.1 679.7"/>
<circle cx="1898.9" cy="550.7" r="10.6"/>
<circle cx="1891.3" cy="593.7" r="10.6"/>
<circle cx="1941.9" cy="584.1" r="10.6"/>
</g>
<g fill="#fff">
<circle cx="1890.3" cy="557.4" r="3.8"/>
<circle cx="1898" cy="586" r="3.8"/>
<circle cx="1933.3" cy="591.8" r="3.8"/>
<circle cx="1940" cy="521" r="4.2"/>
<circle cx="1968.7" cy="621.4" r="4.2"/>
<circle cx="1932.4" cy="658.7" r="4.2"/>
<circle cx="1857.8" cy="672.1" r="4"/>
<circle cx="1876.9" cy="677.8" r="4"/>
<circle cx="1895.1" cy="679.7" r="4"/>
<circle cx="1927.6" cy="685.5" r="4"/>
</g>
<text x="1906.2" y="768.7" font-family='"Liberation Sans", Arial, sans-serif' font-size="43" font-weight="bold" fill="#000" text-anchor="middle" >Models</text>
<rect x="634.8" y="805.6" width="154.3" height="129.7" rx="16" fill="#e7e6e6" stroke="#1f3864" stroke-width="1.8"/>
<rect x="795.7" y="806.3" width="96.6" height="129" rx="16" fill="#e7e6e6" stroke="#1f3864" stroke-width="1.8"/>
<rect x="634.8" y="939.9" width="154.3" height="115.4" rx="16" fill="#e7e6e6" stroke="#1f3864" stroke-width="1.8"/>
<rect x="795.7" y="942.7" width="101.3" height="110.2" rx="16" fill="#e7e6e6" stroke="#1f3864" stroke-width="1.8"/>
<g fill="none" stroke="#3a8686" stroke-linecap="round" stroke-linejoin="round">
<path d="M677.9 828L698.1 829.8L706.4 852.3L692.5 867.9L672.3 864.1L665.4 844.7L677.9 828M698.1 829.8L716.6 815.5L737 828.7L730.7 849.5L706.4 852.3M735.6 855.8L759.9 854.4L766.2 876L749.5 889.9L730 878.7L735.6 855.8" stroke-width="1.9"/>
<path d="M677.9 828L675.5 820.2M665.4 844.7L655.7 843.1M672.3 864.1L667.5 870.5M665.4 873.2L652.3 874.8M665.4 873.2L669.2 886.4M730 850.9L734.9 854.3M766.2 876L775.9 878M749.5 889.9L747.9 900.9M730 878.7L720.2 882.4" stroke-width="8.4" stroke="#1f8a8a"/>
</g>
<text x="708.7" y="926.3" font-family='"Liberation Sans", Arial, sans-serif' font-size="29.5" font-weight="bold" fill="#000" text-anchor="middle" >GMP</text>
<text x="844.3" y="924.7" font-family='"Liberation Sans", Arial, sans-serif' font-size="29.5" font-weight="bold" fill="#000" text-anchor="middle" >DES</text>
<text x="711.8" y="1048.3" font-family='"Liberation Sans", Arial, sans-serif' font-size="29.5" font-weight="bold" fill="#000" text-anchor="middle" >EtOH</text>
<text x="847.8" y="1043.6" font-family='"Liberation Sans", Arial, sans-serif' font-size="29.5" font-weight="bold" text-anchor="middle" fill="#000">H<tspan font-size="19" dy="7">2</tspan><tspan dy="-7">O</tspan></text>
<path d="M824.3 830.2 V896.4 A21.1 4.2 0 0 0 866.6 896.4 V830.2 Z" fill="url(#vgl)"/>
<path d="M824.3 861.8 V896.4 A21.1 4.2 0 0 0 866.6 896.4 V861.8 Z" fill="url(#vlq)"/>
<ellipse cx="845.5" cy="861.8" rx="21.1" ry="3.6" fill="#6c7c80"/>
<path d="M823.2 814.9 V827.8 A22.3 4.6 0 0 0 867.7 827.8 V814.9 A22.3 4.6 0 0 0 823.2 814.9 Z" fill="url(#vcap)"/>
<ellipse cx="845.5" cy="814.9" rx="22.3" ry="4.6" fill="#1c1c1c"/>
<line x1="688.3" y1="975.9" x2="693.5" y2="969.1" stroke="#2c2c2c" stroke-width="7.5"/>
<line x1="693.5" y1="969.1" x2="698.7" y2="962.2" stroke="#d9d9d9" stroke-width="7.5"/>
<circle cx="698.7" cy="962.2" r="6.4" fill="url(#gH)"/>
<line x1="688.3" y1="975.9" x2="679.1" y2="970.4" stroke="#2c2c2c" stroke-width="7.5"/>
<line x1="679.1" y1="970.4" x2="669.9" y2="964.8" stroke="#d9d9d9" stroke-width="7.5"/>
<circle cx="669.9" cy="964.8" r="7" fill="url(#gH)"/>
<line x1="722.3" y1="985.1" x2="729.2" y2="970.1" stroke="#2c2c2c" stroke-width="9.5"/>
<line x1="729.2" y1="970.1" x2="736" y2="955" stroke="#cc0d0d" stroke-width="9.5"/>
<line x1="688.3" y1="975.9" x2="705.3" y2="980.5" stroke="#2c2c2c" stroke-width="10.5"/>
<line x1="705.3" y1="980.5" x2="722.3" y2="985.1" stroke="#2c2c2c" stroke-width="10.5"/>
<line x1="736" y1="955" x2="748.5" y2="958.6" stroke="#cc0d0d" stroke-width="7.5"/>
<line x1="748.5" y1="958.6" x2="760.9" y2="962.2" stroke="#d9d9d9" stroke-width="7.5"/>
<circle cx="736" cy="955" r="10.8" fill="url(#gO)"/>
<circle cx="760.9" cy="962.2" r="7.4" fill="url(#gH)"/>
<circle cx="688.3" cy="975.9" r="7.6" fill="url(#gC)"/>
<circle cx="722.3" cy="985.1" r="8" fill="url(#gC)"/>
<line x1="688.3" y1="975.9" x2="683.7" y2="987.1" stroke="#2c2c2c" stroke-width="7.5"/>
<line x1="683.7" y1="987.1" x2="679.1" y2="998.2" stroke="#d9d9d9" stroke-width="7.5"/>
<circle cx="679.1" cy="998.2" r="7" fill="url(#gH)"/>
<line x1="722.3" y1="985.1" x2="729.5" y2="992.3" stroke="#2c2c2c" stroke-width="7.5"/>
<line x1="729.5" y1="992.3" x2="736.7" y2="999.5" stroke="#d9d9d9" stroke-width="7.5"/>
<circle cx="736.7" cy="999.5" r="6.8" fill="url(#gH)"/>
<line x1="722.3" y1="985.1" x2="717.7" y2="996.9" stroke="#2c2c2c" stroke-width="7.5"/>
<line x1="717.7" y1="996.9" x2="713.1" y2="1008.7" stroke="#d9d9d9" stroke-width="7.5"/>
<circle cx="713.1" cy="1008.7" r="7.4" fill="url(#gH)"/>
<line x1="844.3" y1="976.8" x2="816.1" y2="1001.4" stroke="#c4c7c7" stroke-width="8.9" stroke-linecap="round"/>
<line x1="844.3" y1="976.8" x2="875.9" y2="997.9" stroke="#c4c7c7" stroke-width="8.9" stroke-linecap="round"/>
<circle cx="816.1" cy="1001.4" r="11.7" fill="url(#gH)"/>
<circle cx="875.9" cy="997.9" r="11.7" fill="url(#gH)"/>
<circle cx="844.3" cy="976.8" r="20.2" fill="url(#gO)"/>
<path d="M514.1 982.8L614 831.9M514.1 982.8L618.3 1051.2" fill="none" stroke="#000" stroke-width="4.3" stroke-dasharray="21.5 13" stroke-linecap="butt"/>
<path d="M518.1 976.8L514.1 982.8L520.4 986.9" fill="none" stroke="#000" stroke-width="4.3" stroke-linejoin="miter"/>
<text x="687.6" y="1124" font-family='"Liberation Sans", Arial, sans-serif' font-size="42.5" font-weight="bold" fill="#000" text-anchor="middle" >Solvothermal Synthesis</text>
<rect x="1254.6" y="830.2" width="134.7" height="102" rx="16" fill="url(#cpg)"/>
<rect x="1262.9" y="837.9" width="118.5" height="87.1" rx="9" fill="#fff"/>
<rect x="1270.2" y="844.5" width="104.3" height="74.5" rx="6" fill="url(#cpg)"/>
<rect x="1301" y="930.5" width="41.4" height="19.9" rx="0" fill="url(#cpg)"/>
<rect x="1278.5" y="948.7" width="86.1" height="7.3" rx="2" fill="url(#cpg)"/>
<path d="M1266.2 965.3L1378.7 965.3L1406.9 992.4L1404.6 996.7L1238.7 996.7L1236.4 992.4Z" fill="url(#cpg)" stroke="url(#cpg)" stroke-width="10" stroke-linejoin="round"/>
<rect x="1260.9" y="967.6" width="17.2" height="7" rx="3.4" fill="#fff"/>
<rect x="1287.4" y="967.6" width="17.2" height="7" rx="3.4" fill="#fff"/>
<rect x="1313.2" y="967.6" width="17.2" height="7" rx="3.4" fill="#fff"/>
<rect x="1340.4" y="967.6" width="17.2" height="7" rx="3.4" fill="#fff"/>
<rect x="1365.2" y="967.6" width="17.2" height="7" rx="3.4" fill="#fff"/>
<rect x="1251.3" y="981.9" width="140.7" height="7" rx="3.4" fill="#fff"/>
<rect x="1467.5" y="809.7" width="229.1" height="52.3" rx="8" fill="#e7e6e6" stroke="#1d2f55" stroke-width="1.9"/>
<text x="1582.3" y="847" font-family='"Liberation Sans", Arial, sans-serif' font-size="29.7" font-weight="bold" fill="#3b3838" text-anchor="middle" >Molarity</text>
<rect x="1467.5" y="873.3" width="229.1" height="52.3" rx="8" fill="#e7e6e6" stroke="#1d2f55" stroke-width="1.9"/>
<text x="1582.3" y="910" font-family='"Liberation Sans", Arial, sans-serif' font-size="29.7" font-weight="bold" fill="#3b3838" text-anchor="middle" >Temperature</text>
<rect x="1467.5" y="936.2" width="229.1" height="52.3" rx="8" fill="#e7e6e6" stroke="#1d2f55" stroke-width="1.9"/>
<text x="1582.3" y="973" font-family='"Liberation Sans", Arial, sans-serif' font-size="29.7" font-weight="bold" fill="#000" text-anchor="middle" >Time</text>
<rect x="1467.5" y="998.4" width="229.1" height="53" rx="8" fill="#e7e6e6" stroke="#1d2f55" stroke-width="1.9"/>
<text x="1582.3" y="1035.6" font-family='"Liberation Sans", Arial, sans-serif' font-size="29.7" font-weight="bold" fill="#000" text-anchor="middle" >Solvent ratio</text>
<path d="M1332.8 977.1L1430.5 826.3M1332.8 977.1L1438 1045.5" fill="none" stroke="#000" stroke-width="4.3" stroke-dasharray="21.5 13" stroke-linecap="butt"/>
<path d="M1336.7 971.1L1332.8 977.1L1339.1 981.2" fill="none" stroke="#000" stroke-width="4.3" stroke-linejoin="miter"/>
<text x="1499.5" y="1123.1" font-family='"Liberation Sans", Arial, sans-serif' font-size="42.6" font-weight="bold" fill="#000" text-anchor="middle" >Input Features</text>
<text x="1044" y="936" font-family='"Noto Sans CJK SC", "DejaVu Sans", sans-serif' font-size="41" font-weight="900" fill="#000" text-anchor="middle" >①</text>
<circle cx="1043.5" cy="919.8" r="18.6" fill="none" stroke="#000" stroke-width="3.4"/>
<text x="263.6" y="956.7" font-family='"Noto Sans CJK SC", "DejaVu Sans", sans-serif' font-size="41" font-weight="900" fill="#000" text-anchor="middle" >②</text>
<circle cx="263.1" cy="940.5" r="18.6" fill="none" stroke="#000" stroke-width="3.4"/>
<text x="241.6" y="378.8" font-family='"Noto Sans CJK SC", "DejaVu Sans", sans-serif' font-size="41" font-weight="900" fill="#000" text-anchor="middle" >③</text>
<circle cx="241.1" cy="362.6" r="18.6" fill="none" stroke="#000" stroke-width="3.4"/>
<text x="1024.9" y="331.7" font-family='"Noto Sans CJK SC", "DejaVu Sans", sans-serif' font-size="41" font-weight="900" fill="#000" text-anchor="middle" >④</text>
<circle cx="1024.4" cy="315.5" r="18.6" fill="none" stroke="#000" stroke-width="3.4"/>
<text x="1136.9" y="935" font-family='"Noto Sans CJK SC", "DejaVu Sans", sans-serif' font-size="41" font-weight="900" fill="#000" text-anchor="middle" >⑤</text>
<circle cx="1136.4" cy="918.8" r="18.6" fill="none" stroke="#000" stroke-width="3.4"/>
<text x="1893.1" y="935.8" font-family='"Noto Sans CJK SC", "DejaVu Sans", sans-serif' font-size="41" font-weight="900" fill="#000" text-anchor="middle" >⑥</text>
<circle cx="1892.6" cy="919.6" r="18.6" fill="none" stroke="#000" stroke-width="3.4"/>
<text x="1892.5" y="350.3" font-family='"Noto Sans CJK SC", "DejaVu Sans", sans-serif' font-size="41" font-weight="900" fill="#000" text-anchor="middle" >⑦</text>
<circle cx="1892" cy="334.1" r="18.6" fill="none" stroke="#000" stroke-width="3.4"/>
<text x="1135.5" y="335.9" font-family='"Noto Sans CJK SC", "DejaVu Sans", sans-serif' font-size="41" font-weight="900" fill="#000" text-anchor="middle" >⑧</text>
<circle cx="1135" cy="319.7" r="18.6" fill="none" stroke="#000" stroke-width="3.4"/>
</svg>
</body></html>
